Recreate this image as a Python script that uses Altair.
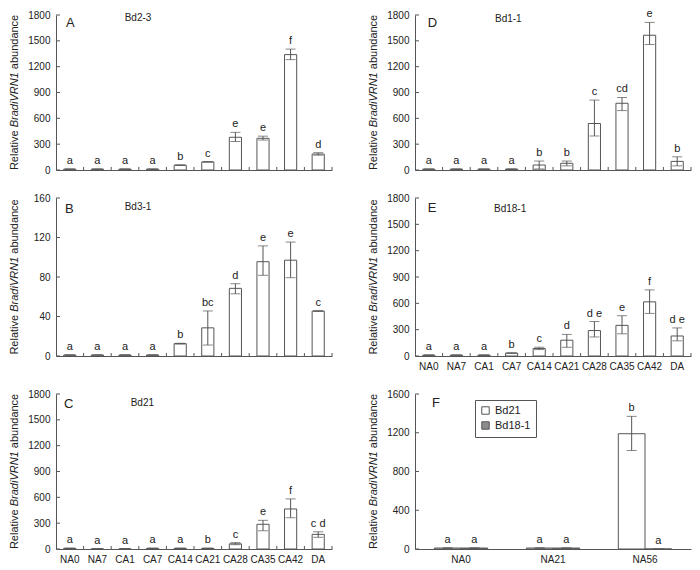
import altair as alt
import pandas as pd

FONT = "Liberation Sans"
INK = "#222222"
LINE = "#555555"

cats = ["NA0", "NA7", "CA1", "CA7", "CA14", "CA21", "CA28", "CA35", "CA42", "DA"]

# Panel A: Bd2-3
a_mean = [10, 10, 10, 10, 56, 94, 380, 368, 1340, 185]
a_lo = [2, 2, 2, 2, 4, 3, 49, 20, 58, 13]
a_hi = [2, 2, 2, 2, 4, 3, 57, 25, 64, 16]
a_let = ["a", "a", "a", "a", "b", "c", "e", "e", "f", "d"]

# Panel B: Bd3-1
b_mean = [1, 1, 1, 1, 12.5, 28.5, 68.5, 95.5, 97, 45.5]
b_lo = [0.2, 0.2, 0.2, 0.2, 0.4, 17.4, 5.5, 13.8, 17.7, 0.4]
b_hi = [0.2, 0.2, 0.2, 0.2, 0.4, 17.1, 4.7, 16, 18.4, 0.4]
b_let = ["a", "a", "a", "a", "b", "bc", "d", "e", "e", "c"]

# Panel C: Bd21
c_mean = [8, 1, 1, 8, 8, 8, 60, 287, 465, 170]
c_lo = [2, 0.5, 0.5, 2, 2, 2, 10, 75, 102, 34]
c_hi = [2, 0.5, 0.5, 2, 2, 2, 14, 46, 117, 30]
c_let = ["a", "a", "a", "a", "a", "b", "c", "e", "f", "c d"]

# Panel D: Bd1-1
d_mean = [10, 10, 10, 10, 58, 78, 540, 775, 1565, 100]
d_lo = [2, 2, 2, 2, 46, 30, 145, 85, 108, 52]
d_hi = [2, 2, 2, 2, 46, 26, 272, 67, 149, 53]
d_let = ["a", "a", "a", "a", "b", "b", "c", "cd", "e", "b"]

# Panel E: Bd18-1
e_mean = [10, 10, 10, 33, 85, 180, 290, 349, 617, 228]
e_lo = [2, 2, 2, 3, 12, 81, 73, 96, 132, 55]
e_hi = [2, 2, 2, 3, 15, 66, 103, 110, 136, 92]
e_let = ["a", "a", "a", "b", "c", "d", "d e", "e", "f", "d e"]

# Panel F
f_cats = ["NA0", "NA21", "NA56"]
f_groups = ["Bd21", "Bd18-1"]
f_bd21_mean = [10, 10, 1190]
f_bd21_lo = [2, 2, 173]
f_bd21_hi = [2, 2, 179]
f_bd21_let = ["a", "a", "b"]
f_bd18_mean = [10, 10, 0]
f_bd18_lo = [2, 2, 0]
f_bd18_hi = [2, 2, 0]
f_bd18_let = ["a", "a", "a"]

W = 276
TITLE_X = -38.5


def one_row():
    return alt.Chart(pd.DataFrame({"k": [0]}))


def ytitle_layers(H):
    y0 = H / 2 + 77.6
    common = dict(angle=270, align="left", baseline="alphabetic", fontSize=11,
                  font=FONT, color=INK)
    t1 = one_row().mark_text(**common).encode(
        x=alt.value(TITLE_X), y=alt.value(y0), text=alt.value("Relative"))
    t2 = one_row().mark_text(fontStyle="italic", **common).encode(
        x=alt.value(TITLE_X), y=alt.value(y0 - 42.8), text=alt.value("BradiVRN1"))
    t3 = one_row().mark_text(**common).encode(
        x=alt.value(TITLE_X), y=alt.value(y0 - 100.9), text=alt.value("abundance"))
    return [t1, t2, t3]


def label_layers(letter, name, lx, lb, tx, tb):
    l1 = one_row().mark_text(align="left", baseline="alphabetic", fontSize=13,
                             font=FONT, color=INK).encode(
        x=alt.value(lx), y=alt.value(lb), text=alt.value(letter))
    out = [l1]
    if name:
        l2 = one_row().mark_text(align="left", baseline="alphabetic", fontSize=10,
                                 font=FONT, color=INK).encode(
            x=alt.value(tx), y=alt.value(tb), text=alt.value(name))
        out.append(l2)
    return out


def yaxis(ticks):
    return alt.Axis(title=None, values=ticks, ticks=False, grid=False, format="d",
                    domainColor=LINE, labelFontSize=10, labelPadding=6,
                    labelColor=INK, labelFont=FONT)


def xaxis_def(show_labels):
    return alt.Axis(title=None, labels=show_labels, ticks=False, grid=False,
                    domainColor=LINE, labelFontSize=10, labelPadding=5,
                    labelColor=INK, labelFont=FONT, labelAngle=0)


def ytick_layer(ticks, yscale, ya):
    return alt.Chart(pd.DataFrame({"t": ticks})).mark_rule(color=LINE).encode(
        y=alt.Y("t:Q", scale=yscale, axis=ya),
        x=alt.value(0), x2=alt.value(4))


def panel(letter, name, mean, lo, hi, lets, ymax, ystep, H, show_labels,
          lx, lb, tx, tb):
    df = pd.DataFrame({
        "cat": cats,
        "value": mean,
        "low": [m - l for m, l in zip(mean, lo)],
        "high": [m + h for m, h in zip(mean, hi)],
        "let": lets,
    })
    ticks = list(range(0, ymax + 1, ystep))
    yscale = alt.Scale(domain=[0, ymax], nice=False, zero=True)
    xscale = alt.Scale(domain=cats, paddingInner=0, paddingOuter=0)
    ya = yaxis(ticks)
    xa = xaxis_def(show_labels)
    base = alt.Chart(df)
    xn = alt.X("cat:N", scale=xscale, axis=xa)
    bars = base.mark_bar(fill="white", stroke=LINE, strokeWidth=1,
                         width=alt.RelativeBandSize(0.44)).encode(
        x=xn, y=alt.Y("value:Q", scale=yscale, axis=ya))
    err = base.mark_rule(color=LINE).encode(
        x=xn, y=alt.Y("low:Q", scale=yscale, axis=ya), y2="high:Q")
    cap_hi = base.mark_tick(color=LINE, size=10, thickness=1).encode(
        x=xn, y=alt.Y("high:Q", scale=yscale, axis=ya))
    cap_lo = base.mark_tick(color=LINE, size=10, thickness=1).encode(
        x=xn, y=alt.Y("low:Q", scale=yscale, axis=ya))
    txt = base.mark_text(dy=-5, baseline="alphabetic", fontSize=11, font=FONT,
                         color=INK).encode(
        x=xn, y=alt.Y("high:Q", scale=yscale, axis=ya), text="let:N")
    xt = base.mark_rule(color=LINE).encode(
        x=alt.X("cat:N", scale=xscale, axis=xa, bandPosition=1),
        y=alt.value(H), y2=alt.value(H - 3))
    layers = [bars, err, cap_hi, cap_lo, txt, xt, ytick_layer(ticks, yscale, ya)]
    layers += ytitle_layers(H) + label_layers(letter, name, lx, lb, tx, tb)
    return alt.layer(*layers).properties(width=W, height=H)


def panel_f(H):
    rows = []
    for i, c in enumerate(f_cats):
        rows.append(dict(cat=c, grp="Bd21", value=f_bd21_mean[i],
                         low=f_bd21_mean[i] - f_bd21_lo[i],
                         high=f_bd21_mean[i] + f_bd21_hi[i], let=f_bd21_let[i]))
        rows.append(dict(cat=c, grp="Bd18-1", value=f_bd18_mean[i],
                         low=f_bd18_mean[i] - f_bd18_lo[i],
                         high=f_bd18_mean[i] + f_bd18_hi[i], let=f_bd18_let[i]))
    df = pd.DataFrame(rows)
    ymax = 1600
    ticks = list(range(0, ymax + 1, 400))
    yscale = alt.Scale(domain=[0, ymax], nice=False, zero=True)
    xscale = alt.Scale(domain=f_cats, paddingInner=0.42, paddingOuter=0.21)
    oscale = alt.Scale(domain=f_groups, paddingInner=0, paddingOuter=0)
    ya = yaxis(ticks)
    xa = xaxis_def(True)
    base = alt.Chart(df)
    xn = alt.X("cat:N", scale=xscale, axis=xa)
    xo = alt.XOffset("grp:N", scale=oscale)
    bars = base.mark_bar(stroke=LINE, strokeWidth=1).encode(
        x=xn, xOffset=xo,
        y=alt.Y("value:Q", scale=yscale, axis=ya),
        fill=alt.Fill("grp:N",
                      scale=alt.Scale(domain=f_groups, range=["white", "#8c8c8c"]),
                      legend=alt.Legend(title=None, orient="none", legendX=60,
                                        legendY=6, strokeColor=LINE, padding=5,
                                        fillColor="white", symbolType="square",
                                        symbolSize=55, symbolStrokeColor=LINE,
                                        symbolStrokeWidth=1, labelFontSize=11,
                                        labelFont=FONT, labelColor=INK,
                                        rowPadding=2)))
    err = base.mark_rule(color=LINE).encode(
        x=xn, xOffset=xo, y=alt.Y("low:Q", scale=yscale, axis=ya), y2="high:Q")
    cap_hi = base.mark_tick(color=LINE, size=10, thickness=1).encode(
        x=xn, xOffset=xo, y=alt.Y("high:Q", scale=yscale, axis=ya))
    cap_lo = base.mark_tick(color=LINE, size=10, thickness=1).encode(
        x=xn, xOffset=xo, y=alt.Y("low:Q", scale=yscale, axis=ya))
    txt = base.mark_text(dy=-5, baseline="alphabetic", fontSize=11, font=FONT,
                         color=INK).encode(
        x=xn, xOffset=xo, y=alt.Y("high:Q", scale=yscale, axis=ya),
        text="let:N")
    layers = [bars, err, cap_hi, cap_lo, txt, ytick_layer(ticks, yscale, ya)]
    layers += ytitle_layers(H) + label_layers("F", "", 17, 13, 80, 11)
    return alt.layer(*layers).properties(width=W, height=H)


H1, H2, H3 = 155, 158, 155
pA = panel("A", "Bd2-3", a_mean, a_lo, a_hi, a_let, 1800, 300, H1, False, 10, 12.3, 68.7, 6.3)
pD = panel("D", "Bd1-1", d_mean, d_lo, d_hi, d_let, 1800, 300, H1, False, 12.7, 12.3, 80, 7)
pB = panel("B", "Bd3-1", b_mean, b_lo, b_hi, b_let, 160, 40, H2, False, 9, 15, 68.7, 11.7)
pE = panel("E", "Bd18-1", e_mean, e_lo, e_hi, e_let, 1800, 300, H2, True, 12.7, 13.7, 79, 13.7)
pC = panel("C", "Bd21", c_mean, c_lo, c_hi, c_let, 1800, 300, H3, True, 8, 13.7, 74.7, 11.7)
pF = panel_f(H3)

chart = alt.vconcat(
    alt.hconcat(pA, pD, spacing=34),
    alt.hconcat(pB, pE, spacing=34),
    alt.hconcat(pC, pF, spacing=34).resolve_scale(fill="independent"),
    spacing=18,
).resolve_scale(fill="independent").properties(padding=0).configure(
    font=FONT).configure_view(strokeWidth=0)

chart.save("out.html", embed_options={"renderer": "svg", "actions": False})
